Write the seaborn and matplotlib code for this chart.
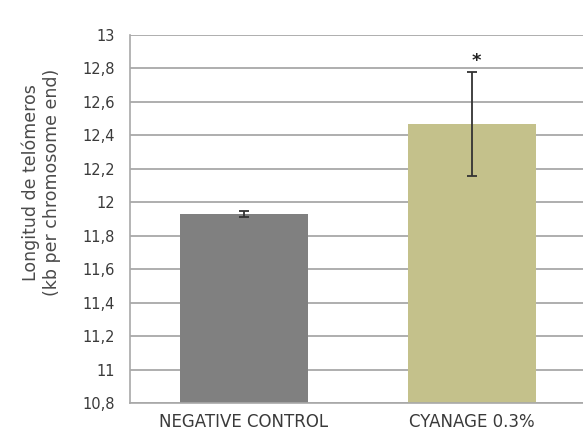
import matplotlib
matplotlib.use("Agg")
import matplotlib.pyplot as plt
import seaborn as sns
import pandas as pd

# data
groups = ["NEGATIVE CONTROL", "CYANAGE 0.3%"]
telomere_kb = [11.93, 12.47]
sem_kb = [0.02, 0.31]
bar_colors = ["#808080", "#c4c18b"]
y_ticks = [10.8, 11.0, 11.2, 11.4, 11.6, 11.8, 12.0, 12.2, 12.4, 12.6, 12.8, 13.0]
y_tick_labels = ["10,8", "11", "11,2", "11,4", "11,6", "11,8", "12", "12,2", "12,4", "12,6", "12,8", "13"]
signif = ["", "*"]

sns.set_style("white")
plt.rcParams["font.family"] = ["DejaVu Sans"]

df = pd.DataFrame({"group": groups, "kb": telomere_kb})

fig = plt.figure(figsize=(5.83, 4.32), dpi=100)
ax = fig.add_axes([0.223, 0.067, 0.782, 0.852])

for y in y_ticks:
    ax.axhline(y, color="#a8a8a8", lw=1.3, zorder=0)

sns.barplot(data=df, x="group", y="kb", hue="group", palette=bar_colors,
            width=0.56, saturation=1, linewidth=0, legend=False, ax=ax, zorder=2)

ax.errorbar(range(len(groups)), telomere_kb, yerr=sem_kb, fmt="none",
            ecolor="#333333", elinewidth=1.3, capsize=3.5, capthick=1.3, zorder=3)

for i, s in enumerate(signif):
    if s:
        ax.text(i + 0.02, telomere_kb[i] + sem_kb[i] + 0.065, s, ha="center", va="center",
                fontsize=13, fontweight="bold", color="#222222")

ax.set_ylim(10.8, 13.0)
ax.set_xlim(-0.5, 1.5)
ax.set_yticks(y_ticks)
ax.set_yticklabels(y_tick_labels, fontsize=10.5, color="#3a3a3a")
ax.set_xticks([0.5], minor=False)
ax.set_xticks([0, 1], minor=True)
ax.set_xticklabels([""])
ax.set_xticklabels(groups, minor=True, fontsize=12, color="#3a3a3a")
ax.tick_params(axis="x", which="major", direction="out", length=4, color="#a8a8a8", width=1.2)
ax.tick_params(axis="x", which="minor", length=0, pad=7)
ax.tick_params(axis="y", direction="out", length=6, color="#a8a8a8", width=1.2, pad=5)

ax.set_xlabel("")
ax.set_ylabel("Longitud de telómeros\n(kb per chromosome end)", fontsize=12.5, color="#4a4a4a")
ax.yaxis.set_label_coords(-0.152, 0.6)

for side in ["top", "right"]:
    ax.spines[side].set_visible(False)
ax.spines["left"].set_color("#a8a8a8")
ax.spines["bottom"].set_color("#a8a8a8")
ax.spines["left"].set_linewidth(1.2)
ax.spines["bottom"].set_linewidth(1.2)

fig.savefig("out.png", dpi=100)
